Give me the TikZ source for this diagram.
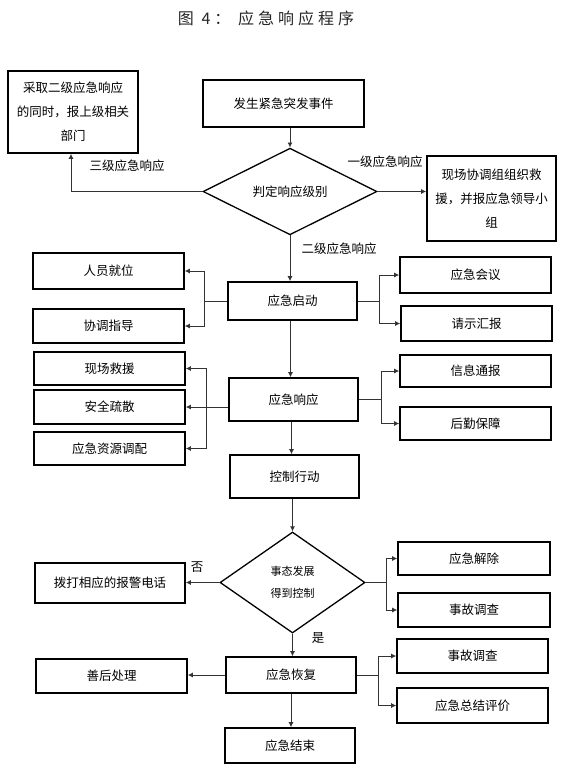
\documentclass[tikz,border=0pt]{standalone}
\usepackage{fontspec}
\setmainfont{Noto Sans CJK SC}
\newfontfamily\titlefont[LetterSpace=25]{Noto Sans CJK SC}
\usepackage{tikz}
\usetikzlibrary{arrows.meta, positioning, shapes.geometric, calc}

\begin{document}
\begin{tikzpicture}[x=1pt, y=-1pt,
            stepbox/.style={draw, line width=1.6pt, inner sep=2pt, align=center, font=\fontsize{12.5}{24}\selectfont},
            sidebox/.style={stepbox, minimum width=151pt, minimum height=34pt},
            mainbox/.style={stepbox, minimum width=129pt},
            decision/.style={draw, diamond, line width=1.3pt, inner sep=0pt, align=center, font=\fontsize{12.5}{22}\selectfont},
            branch label/.style={font=\fontsize{12.5}{15}\selectfont},
            link/.style={draw=black!80, line width=0.9pt},
            arrow/.style={link, -{Latex[length=5pt, width=5pt]}}]

            \useasboundingbox (0,0) rectangle (562,772);

            % Title
            \node[font=\titlefont\fontsize{16}{18}\selectfont, text=black!85] (title) at (266,18) {图 4： 应急响应程序};

            % Level decision
            \node[stepbox, minimum width=130pt, minimum height=82pt] (upper) at (73,112) {采取二级应急响应\\的同时，报上级相关\\部门};
            \node[stepbox, minimum width=161pt, minimum height=47pt] (event) at (283.5,103.5) {发生紧急突发事件};
            \node[decision, minimum width=174pt, minimum height=83pt] (level) at (290,191.5) {判定响应级别};
            \node[stepbox, minimum width=129pt, minimum height=85pt] (site) at (491.5,198.5) {现场协调组组织救\\援，并报应急领导小\\组};

            % Emergency start
            \node[mainbox, minimum height=38pt] (start) at (292.5,301) {应急启动};
            \node[sidebox, minimum height=36pt] (staff) at (108.5,271) {人员就位};
            \node[sidebox] (guide) at (108.5,326) {协调指导};
            \node[sidebox, minimum height=36pt] (meeting) at (475.5,275) {应急会议};
            \node[sidebox, minimum height=35pt] (report) at (476.5,323.5) {请示汇报};

            % Emergency response
            \node[mainbox, minimum height=43pt] (response) at (293.5,399.5) {应急响应};
            \node[sidebox, minimum height=33pt] (rescue) at (109.5,368.5) {现场救援};
            \node[sidebox] (evacuate) at (109.5,407) {安全疏散};
            \node[sidebox, minimum height=33pt] (resource) at (109.5,448.5) {应急资源调配};
            \node[sidebox, minimum height=32pt] (notice) at (475.5,371) {信息通报};
            \node[sidebox, minimum height=33pt] (supply) at (475.5,423.5) {后勤保障};

            \node[mainbox, minimum height=43pt] (control) at (294.5,476.5) {控制行动};

            % Control decision
            \node[decision, minimum width=145pt, minimum height=101pt, font=\fontsize{11}{22}\selectfont] (state) at (292.5,582.5) {事态发展\\得到控制};
            \node[sidebox, minimum width=150pt, minimum height=40pt] (alarm) at (110,583) {拨打相应的报警电话};
            \node[sidebox, minimum width=152pt, minimum height=33pt] (release) at (474,558.5) {应急解除};
            \node[sidebox, minimum width=152pt] (survey) at (474,610) {事故调查};

            % Recovery
            \node[mainbox, minimum width=130pt, minimum height=36pt] (recover) at (291,675) {应急恢复};
            \node[sidebox] (aftermath) at (111.5,676) {善后处理};
            \node[sidebox] (survey-b) at (472.5,656) {事故调查};
            \node[sidebox, minimum height=35pt] (summary) at (472.5,705.5) {应急总结评价};
            \node[mainbox, minimum width=130pt, minimum height=35pt] (finish) at (290,745.5) {应急结束};

            % Connectors
            \draw[arrow] (event.south -| level.north) -- (level.north);
            \draw[arrow] (level.west) -| ([xshift=-2pt]upper.south);
            \draw[arrow] (level.east) -- (level.east -| site.west);
            \draw[arrow] (level.south) -- (level.south |- start.north);

            \node[branch label] (lbl-three) at (127,166) {三级应急响应};
            \node[branch label] (lbl-one) at (385,162) {一级应急响应};
            \node[branch label] (lbl-two) at (339,249) {二级应急响应};

            \draw[arrow] (start.west) -- ++(-23,0) |- (staff.east);
            \draw[arrow] (start.west) -- ++(-23,0) |- (guide.east);
            \draw[arrow] (start.east) -- ++(22,0) |- (meeting.west);
            \draw[arrow] (start.east) -- ++(22,0) |- (report.west);
            \draw[arrow] ([xshift=-2pt]start.south) -- ([xshift=-2pt]start.south |- response.north);

            \draw[arrow] (response.west |- evacuate.east) -- (evacuate.east);
            \coordinate (rbus) at (206,407);
            \draw[arrow] (rbus) |- (rescue.east);
            \draw[arrow] (rbus) |- (resource.east);
            \draw[arrow] (response.east) -- ++(23,0) |- (notice.west);
            \draw[arrow] (response.east) -- ++(23,0) |- (supply.west);
            \draw[arrow] ([xshift=-2pt]response.south) -- ([xshift=-2pt]response.south |- control.north);

            \draw[arrow] ([xshift=-2pt]control.south) -- (state.north);
            \draw[arrow] (state.west) -- (state.west -| alarm.east);
            \draw[arrow] (state.east) -- ++(21,0) |- (release.west);
            \draw[arrow] (state.east) -- ++(21,0) |- (survey.west);
            \draw[arrow] (state.south) -- (state.south |- recover.north);

            \node[branch label] (lbl-no) at (197,567) {否};
            \node[branch label] (lbl-yes) at (318,638) {是};

            \draw[arrow] (recover.west) -- (recover.west -| aftermath.east);
            \draw[arrow] (recover.east) -- ++(22,0) |- (survey-b.west);
            \draw[arrow] (recover.east) -- ++(22,0) |- (summary.west);
            \draw[arrow] (recover.south) -- (recover.south |- finish.north);
        \end{tikzpicture}
\end{document}
